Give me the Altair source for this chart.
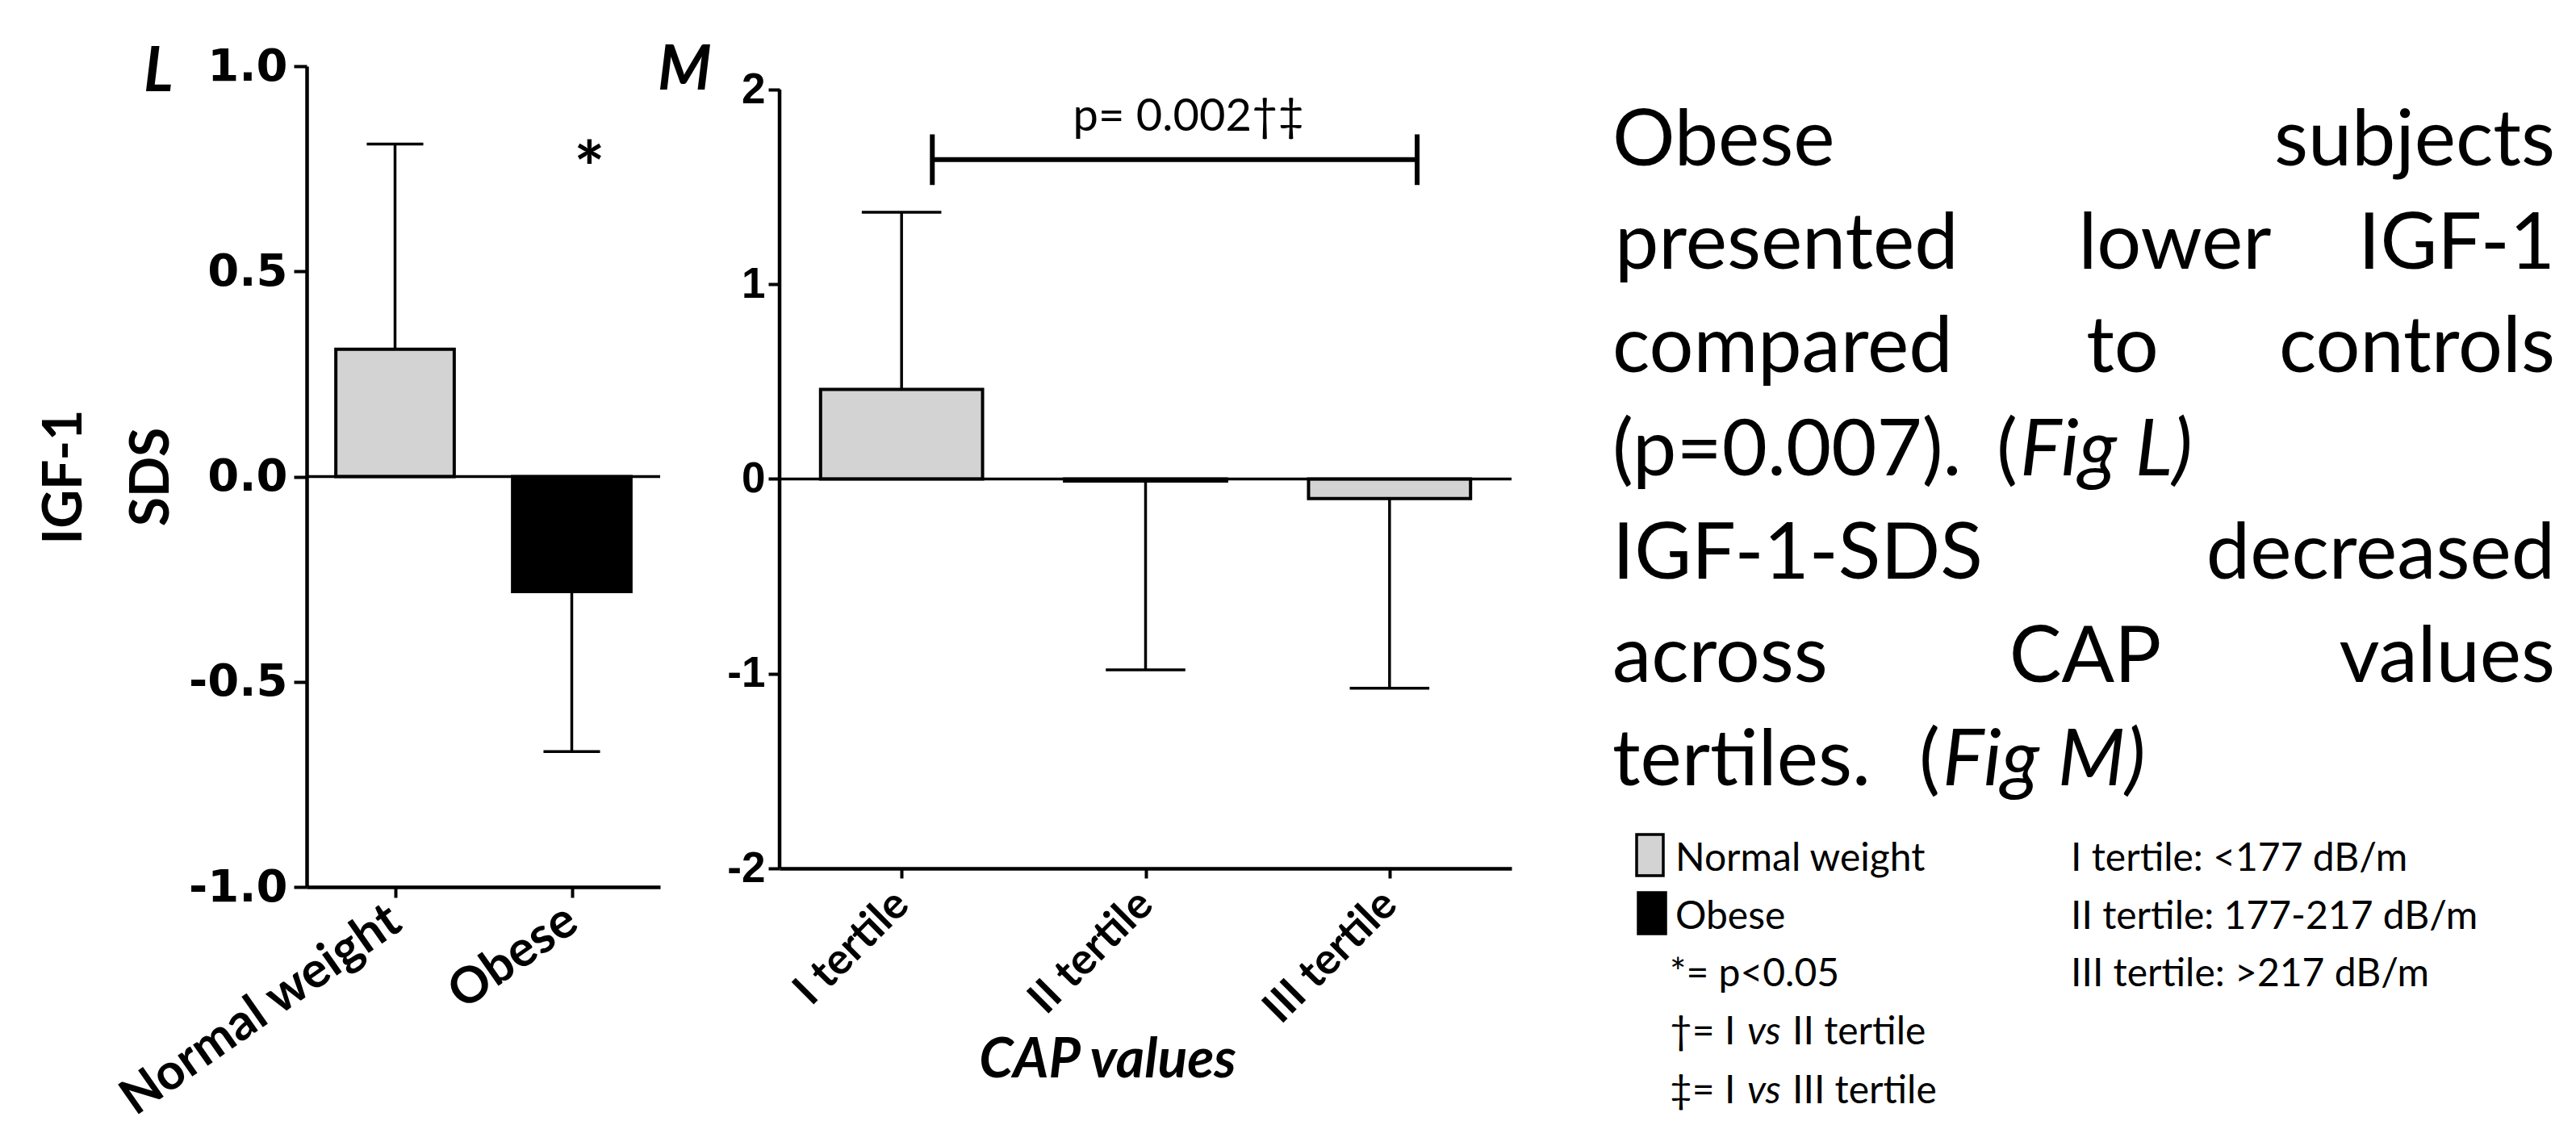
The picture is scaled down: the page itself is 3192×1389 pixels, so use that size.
import altair as alt
import pandas as pd

# ---------------- data ----------------
L_groups = ["Normal weight", "Obese"]
L_means = [0.31, -0.28]
L_sd = [0.50, 0.39]
L_fill = ["#d3d3d3", "#000000"]
L_yticks = [-1.0, -0.5, 0.0, 0.5, 1.0]

M_groups = ["I tertile", "II tertile", "III tertile"]
M_means = [0.46, -0.01, -0.10]
M_sd = [0.91, 0.97, 0.975]
M_fill = ["#d3d3d3", "#d3d3d3", "#d3d3d3"]
M_yticks = [-2, -1, 0, 1, 2]

p_label = "p= 0.002\u2020\u2021"
star_label = "*"

summary_lines = [
    ["Obese", "subjects"],
    ["presented", "lower", "IGF-1"],
    ["compared", "to", "controls"],
    ["(p=0.007).", "(", "Fig L)"],
    ["IGF-1-SDS", "decreased"],
    ["across", "CAP", "values"],
    ["tertiles.", "(", "Fig M)"],
]
legend_labels = ["Normal weight", "Obese"]
legend_fills = ["#d3d3d3", "#000000"]
note_rows = [["*= p<0.05"], ["\u2020= I", "vs", "II tertile"], ["\u2021= I", "vs", "III tertile"]]
cutoff_labels = ["I tertile: <177 dB/m", "II tertile: 177-217 dB/m", "III tertile: >217 dB/m"]

# ---------------- layout ----------------
FONT = "Lato"
BLACK = "#000000"
ROW_TOP = 82
PAGE_H = 1389
L_W, L_H = 438, 1017
M_W, M_H = 907, 994
SPACING = 148
T_LEFT = 380 + L_W + SPACING + M_W + SPACING
T_W, T_H = 3180 - T_LEFT, PAGE_H - ROW_TOP
M_YDOM = [-2, 2 + 29 / 241.25]

summary_y = [205, 333, 461, 589, 717, 845, 973]
summary_layout = [
    [(1998, "left", False), (3166, "right", False)],
    [(2001, "left", False), (2695, "center", False), (3166, "right", False)],
    [(1998, "left", False), (2630, "center", False), (3166, "right", False)],
    [(1998, "left", False), (2474, "left", False), (2503, "left", True)],
    [(1998, "left", False), (3166, "right", False)],
    [(1998, "left", False), (2584, "center", False), (3166, "right", False)],
    [(1998, "left", False), (2378, "left", False), (2407, "left", True)],
]
legend_y = [1079, 1151, 1222, 1294, 1367]
swatch_box = [(2028, 2061, 1034, 1085), (2030, 2064, 1106, 1157)]
note_x = [2069, 2165, 2221]
cutoff_x = 2566
LEGEND_SIZE = 48
SUMMARY_SIZE = 97

one = pd.DataFrame({"k": [0]})


def panel_df(groups, means, sds, fills):
    return pd.DataFrame({"group": groups, "pos": list(range(len(groups))),
                         "mean": means, "sd": sds, "fill": fills})


def bar_layers(df, xs, ys, xaxis, yaxis, bar_half, cap_half, xdom):
    base = alt.Chart(df).transform_calculate(
        b0=f"datum.pos - {bar_half}", b1=f"datum.pos + {bar_half}",
        c0=f"datum.pos - {cap_half}", c1=f"datum.pos + {cap_half}",
        end="datum.mean + (datum.mean >= 0 ? 1 : -1) * datum.sd",
    )
    bars = base.mark_bar(stroke=BLACK, strokeWidth=4).encode(
        x=alt.X("b0:Q", scale=xs, axis=xaxis), x2="b1:Q",
        y=alt.Y("mean:Q", scale=ys, axis=yaxis), y2=alt.datum(0),
        fill=alt.Fill("fill:N", scale=None),
    )
    zero = alt.Chart(one).mark_rule(color=BLACK, strokeWidth=3.5).encode(
        x=alt.X(datum=xdom[0], axis=xaxis), x2=alt.datum(xdom[1]),
        y=alt.Y(datum=0, axis=yaxis),
    )
    stems = base.mark_rule(color=BLACK, strokeWidth=3.5).encode(
        x=alt.X("pos:Q", axis=xaxis), y=alt.Y("mean:Q", axis=yaxis), y2="end:Q",
    )
    caps = base.mark_rule(color=BLACK, strokeWidth=3.5).encode(
        x=alt.X("c0:Q", axis=xaxis), x2="c1:Q", y=alt.Y("end:Q", axis=yaxis),
    )
    return [bars, zero, stems, caps]


# ---------------- panel L ----------------
L_df = panel_df(L_groups, L_means, L_sd, L_fill)
L_xdom = [-0.5, 1.5]
L_xs = alt.Scale(domain=L_xdom, nice=False, zero=False)
L_ys = alt.Scale(domain=[-1, 1], nice=False, zero=False)
L_names = "[" + ",".join("'" + g + "'" for g in L_groups) + "]"
L_xaxis = alt.Axis(
    values=[0, 1], labelExpr=f"{L_names}[datum.value]", title=None,
    labelAngle=325, labelAlign="right", labelBaseline="middle",
    labelFont=FONT, labelFontWeight="bold", labelFontSize=62, labelColor=BLACK,
    labelPadding=22, labelFlush=False, labelOverlap=False, labelLimit=2000,
    tickSize=13, tickWidth=4, tickColor=BLACK, domainWidth=4.5, domainColor=BLACK, grid=False,
)
L_yaxis = alt.Axis(
    values=L_yticks, labelExpr="replace(format(datum.value, '.1f'), '\u2212', '-')",
    labelFont="DejaVu Sans", labelFontWeight="bold", labelFontSize=56, labelColor=BLACK,
    labelPadding=8, labelOverlap=False, labelLimit=2000, tickSize=16, tickWidth=4, tickColor=BLACK,
    domainWidth=4.5, domainColor=BLACK, grid=False,
    title=["IGF-1", "SDS"], titleFont=FONT, titleFontWeight="bold", titleFontSize=66,
    titleColor=BLACK, titleLineHeight=108, titleAngle=270, titleAlign="center",
    titleBaseline="middle", titleX=-300, titleY=L_H / 2, titleLimit=2000,
)
L_layers = bar_layers(L_df, L_xs, L_ys, L_xaxis, L_yaxis, 0.335, 0.16, L_xdom)
L_star = alt.Chart(one).mark_text(
    text=star_label, font=FONT, fontSize=90, fontWeight="bold", baseline="middle", align="center"
).encode(x=alt.X(datum=1.10, axis=L_xaxis), y=alt.Y(datum=0.74, axis=L_yaxis))
L_letter = alt.Chart(one).mark_text(
    text="L", font=FONT, fontSize=76, fontWeight="bold", fontStyle="italic",
    align="left", baseline="alphabetic",
).encode(x=alt.value(-202), y=alt.value(31))
L_chart = alt.layer(*L_layers, L_star, L_letter).properties(width=L_W, height=L_H)

# ---------------- panel M ----------------
M_df = panel_df(M_groups, M_means, M_sd, M_fill)
M_xdom = [-0.5, 2.5]
M_xs = alt.Scale(domain=M_xdom, nice=False, zero=False)
M_ys = alt.Scale(domain=M_YDOM, nice=False, zero=False)
M_names = "[" + ",".join("'" + g + "'" for g in M_groups) + "]"
M_xaxis = alt.Axis(
    values=[0, 1, 2], labelExpr=f"{M_names}[datum.value]",
    labelAngle=315, labelAlign="right", labelBaseline="middle",
    labelFont=FONT, labelFontWeight="bold", labelFontSize=54, labelColor=BLACK,
    labelPadding=24, labelFlush=False, labelOverlap=False, labelLimit=2000,
    tickSize=12, tickWidth=4, tickColor=BLACK, domainWidth=4.5, domainColor=BLACK, grid=False,
    title="CAP values", titleFont=FONT, titleFontWeight="bold", titleFontStyle="italic",
    titleFontSize=68, titleColor=BLACK, titleX=406, titleY=258, titleAlign="center",
    titleBaseline="alphabetic", titleLimit=2000,
)
M_yaxis = alt.Axis(
    values=M_yticks, labelExpr="'' + datum.value",
    labelFont="Liberation Sans", labelFontWeight="bold", labelFontSize=53, labelColor=BLACK,
    labelPadding=4, labelOverlap=False, tickSize=14, tickWidth=4, tickColor=BLACK,
    domain=False, grid=False, title=None,
)
M_layers = bar_layers(M_df, M_xs, M_ys, M_xaxis, M_yaxis, 0.332, 0.163, M_xdom)
M_axisline = alt.Chart(one).mark_rule(color=BLACK, strokeWidth=4.5).encode(
    x=alt.X(datum=M_xdom[0], axis=M_xaxis), y=alt.Y(datum=M_yticks[0], axis=M_yaxis),
    y2=alt.datum(M_yticks[-1]),
)
bracket_x = [0.126, 2.113]
bracket_y = 1.64
bracket_cap = 0.13
M_bracket = alt.Chart(one).mark_rule(color=BLACK, strokeWidth=6).encode(
    x=alt.X(datum=bracket_x[0], axis=M_xaxis), x2=alt.datum(bracket_x[1]),
    y=alt.Y(datum=bracket_y, axis=M_yaxis),
)
M_bracket_caps = alt.Chart(pd.DataFrame({"bx": bracket_x})).mark_rule(color=BLACK, strokeWidth=6).encode(
    x=alt.X("bx:Q", axis=M_xaxis), y=alt.Y(datum=bracket_y - bracket_cap, axis=M_yaxis),
    y2=alt.datum(bracket_y + bracket_cap),
)
M_ptext = alt.Chart(one).mark_text(
    text=p_label, font=FONT, fontSize=56, align="center", baseline="alphabetic"
).encode(x=alt.X(datum=1.176, axis=M_xaxis), y=alt.Y(datum=1.789, axis=M_yaxis))
M_letter = alt.Chart(one).mark_text(
    text="M", font=FONT, fontSize=76, fontWeight="bold", fontStyle="italic",
    align="left", baseline="alphabetic",
).encode(x=alt.value(-151), y=alt.value(29))
M_chart = alt.layer(*M_layers, M_axisline, M_bracket, M_bracket_caps, M_ptext, M_letter).properties(
    width=M_W, height=M_H
)

# ---------------- text panel ----------------
rows = []
for words, lay, yy in zip(summary_lines, summary_layout, summary_y):
    for w, (xx, al, it) in zip(words, lay):
        rows.append({"t": w, "px": xx, "py": yy, "align": al, "italic": it, "size": SUMMARY_SIZE})
for lab, yy in zip(legend_labels, legend_y[:2]):
    rows.append({"t": lab, "px": 2076, "py": yy, "align": "left", "italic": False, "size": LEGEND_SIZE})
for parts, yy in zip(note_rows, legend_y[2:]):
    for i, part in enumerate(parts):
        rows.append({"t": part, "px": note_x[i], "py": yy, "align": "left",
                     "italic": part == "vs", "size": LEGEND_SIZE})
for lab, yy in zip(cutoff_labels, legend_y[:3]):
    rows.append({"t": lab, "px": cutoff_x, "py": yy, "align": "left", "italic": False, "size": LEGEND_SIZE})
items = pd.DataFrame(rows)

txs = alt.Scale(domain=[T_LEFT, T_LEFT + T_W], nice=False, zero=False)
tys = alt.Scale(domain=[PAGE_H, ROW_TOP], nice=False, zero=False)

T_layers = []
for (al, it, sz), sub in items.groupby(["align", "italic", "size"]):
    T_layers.append(
        alt.Chart(sub[["t", "px", "py"]]).mark_text(
            align=al, baseline="alphabetic", font=FONT, fontSize=int(sz),
            fontStyle="italic" if it else "normal", color=BLACK,
        ).encode(
            x=alt.X("px:Q", scale=txs, axis=None),
            y=alt.Y("py:Q", scale=tys, axis=None),
            text="t:N",
        )
    )
sw = pd.DataFrame({
    "x0": [b[0] for b in swatch_box], "x1": [b[1] for b in swatch_box],
    "y0": [b[2] for b in swatch_box], "y1": [b[3] for b in swatch_box],
    "fill": legend_fills,
})
T_layers.append(
    alt.Chart(sw).mark_rect(stroke=BLACK, strokeWidth=3.5).encode(
        x=alt.X("x0:Q", scale=txs, axis=None), x2="x1:Q",
        y=alt.Y("y0:Q", scale=tys, axis=None), y2="y1:Q",
        fill=alt.Fill("fill:N", scale=None),
    )
)
T_chart = alt.layer(*T_layers).properties(width=T_W, height=T_H)

chart = alt.hconcat(L_chart, M_chart, T_chart, spacing=SPACING, bounds="flush").properties(
    padding={"left": 372, "top": 74, "right": 2804, "bottom": 1307},
    autosize=alt.AutoSizeParams(type="none"),
    background="white",
).configure_view(stroke=None)

chart.save("out.html", embed_options={"renderer": "svg", "actions": False})
